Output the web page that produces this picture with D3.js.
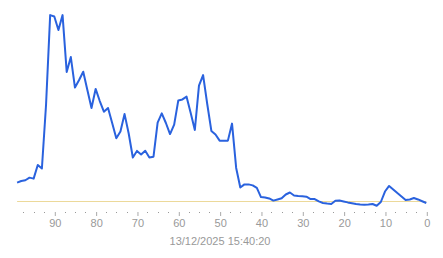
<!DOCTYPE html>
<html>
<head>
<meta charset="utf-8">
<script src="https://cdn.jsdelivr.net/npm/d3@7"></script>
<style>
  body { margin: 0; background: #fff; }
  svg { display: block; }
</style>
</head>
<body>
<div class="chart"></div>
<script>
// seconds ago, 99 down to 0
const secondsAgo = d3.range(99, -1, -1);
// load values, one per second (oldest first)
const load = [
  15.1, 15.9, 16.3, 17.6, 17.1, 24.0, 22.2, 54.3, 99.7, 99.0,
  92.2, 99.7, 71.0, 78.5, 63.1, 66.9, 71.1, 61.9, 52.8, 62.4,
  56.3, 50.9, 52.8, 45.2, 37.5, 40.9, 49.7, 39.9, 27.8, 31.1,
  29.3, 31.2, 27.8, 28.2, 45.4, 50.1, 45.2, 39.6, 44.4, 56.6,
  57.1, 58.5, 50.3, 41.7, 64.1, 69.4, 54.8, 41.2, 39.4, 36.3,
  36.3, 36.3, 44.9, 22.5, 12.6, 14.2, 14.2, 13.7, 12.4, 7.8,
  7.6, 7.1, 6.0, 6.6, 7.2, 9.1, 10.1, 8.6, 8.3, 8.2,
  8.0, 6.8, 6.8, 5.6, 4.8, 4.5, 4.3, 5.9, 6.1, 5.6,
  5.1, 4.7, 4.3, 4.0, 3.9, 4.0, 4.3, 3.4, 5.3, 10.6,
  13.4, 11.6, 9.8, 8.1, 6.3, 6.6, 7.3, 6.6, 5.7, 4.8
];
const referenceLevel = 6;
const majorTicks = [90, 80, 70, 60, 50, 40, 30, 20, 10, 0];
const minorTicks = d3.range(97.5, 0, -2.5).filter(v => v % 10 !== 0);
const stamp = '13/12/2025 15:40:20';

const width = 443, height = 258;
const left = 17.1, right = 426.3;
const axisY = 212;

const svg = d3.select('.chart')
    .append('svg')
    .attr('width', width)
    .attr('height', height);

const xScale = d3.scaleLinear()
    .domain([99, 0])
    .range([left, right]);

const yScale = d3.scaleLinear()
    .domain([0, 100])
    .range([212.5, 14.5]);

// reference line
svg.append('line')
    .attr('x1', xScale(99))
    .attr('x2', xScale(0))
    .attr('y1', Math.round(yScale(referenceLevel)) + 0.5)
    .attr('y2', Math.round(yScale(referenceLevel)) + 0.5)
    .attr('stroke', '#ecd99a')
    .attr('stroke-width', 1);

// minor dots
svg.selectAll('.minor')
    .data(minorTicks)
    .join('rect')
    .attr('class', 'minor')
    .attr('x', d => Math.round(xScale(d)))
    .attr('y', axisY)
    .attr('width', 1)
    .attr('height', 1)
    .attr('fill', '#999');

// major ticks + labels
const xAxis = d3.axisBottom(xScale)
    .tickValues(majorTicks)
    .tickSize(4)
    .tickPadding(3)
    .tickFormat(d3.format('d'));

svg.append('g')
    .attr('class', 'x-axis')
    .attr('transform', `translate(0.5, ${axisY})`)
    .call(xAxis)
    .call(g => g.select('.domain').remove())
    .call(g => g.selectAll('line').attr('stroke', '#aaa'))
    .call(g => g.selectAll('text')
        .attr('fill', '#999')
        .attr('font-family', 'Liberation Sans, Arial, sans-serif')
        .attr('font-size', 11));

// timestamp
svg.append('text')
    .attr('x', 220)
    .attr('y', 245)
    .attr('text-anchor', 'middle')
    .attr('fill', '#999')
    .attr('font-family', 'Liberation Sans, Arial, sans-serif')
    .attr('font-size', 11)
    .text(stamp);

// load line
const line = d3.line()
    .x((d, i) => xScale(secondsAgo[i]))
    .y(d => yScale(d));

svg.append('path')
    .datum(load)
    .attr('d', line)
    .attr('fill', 'none')
    .attr('stroke', '#2a62de')
    .attr('stroke-width', 2)
    .attr('stroke-linejoin', 'round');
</script>
</body>
</html>
